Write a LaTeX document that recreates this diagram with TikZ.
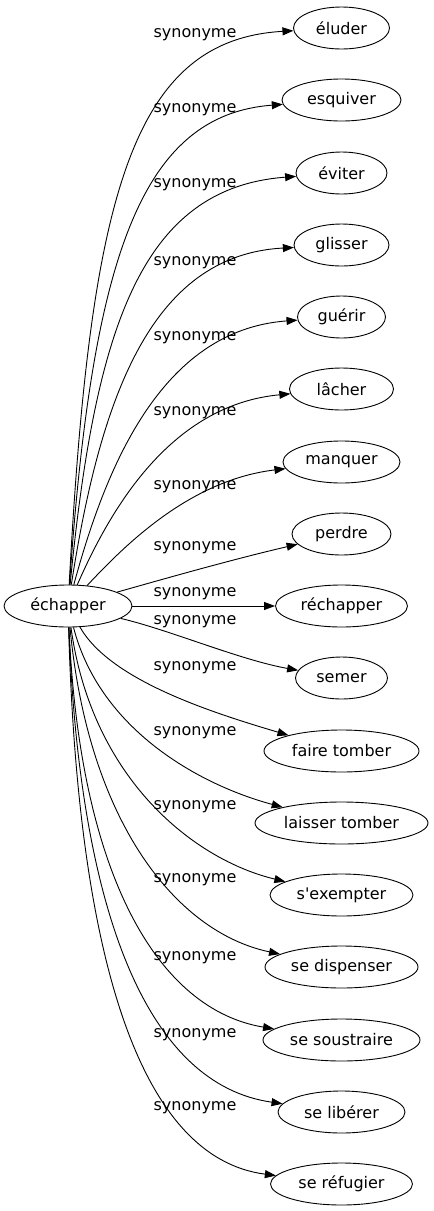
\documentclass[tikz,border=0pt]{standalone}
\usepackage{fontspec}
\setmainfont{DejaVu Sans}[Ligatures=TeXOff]
\usetikzlibrary{arrows.meta, shapes.geometric}

\begin{document}
\begin{tikzpicture}[x=1pt, y=-1pt,
  word/.style={draw, ellipse, line width=0.9pt, minimum height=42pt, inner sep=0pt, font=\fontsize{16}{19}\selectfont},
  syn/.style={-{Triangle[length=11pt, width=8pt]}, line width=0.9pt},
  lbl/.style={font=\fontsize{16}{19}\selectfont}]
  \useasboundingbox (0,0) rectangle (434,1211);

  \node[word, minimum width=128pt] (echapper) at (68,606) {échapper};

  \node[word, minimum width=96pt] (eluder) at (341.5,28) {éluder};
  \node[word, minimum width=119pt] (esquiver) at (341.5,100) {esquiver};
  \node[word, minimum width=91pt] (eviter) at (341.5,173) {éviter};
  \node[word, minimum width=95pt] (glisser) at (341.5,245) {glisser};
  \node[word, minimum width=88pt] (guerir) at (341.5,317) {guérir};
  \node[word, minimum width=104pt] (lacher) at (341.5,389) {lâcher};
  \node[word, minimum width=117pt] (manquer) at (341.5,462) {manquer};
  \node[word, minimum width=99pt] (perdre) at (341.5,534) {perdre};
  \node[word, minimum width=132pt] (rechapper) at (341.5,606) {réchapper};
  \node[word, minimum width=92pt] (semer) at (341.5,678) {semer};
  \node[word, minimum width=155pt] (fairetomber) at (341.5,751) {faire tomber};
  \node[word, minimum width=173pt] (laissertomber) at (341.5,823) {laisser tomber};
  \node[word, minimum width=143pt] (sexempter) at (341.5,895) {s'exempter};
  \node[word, minimum width=153pt] (sedispenser) at (341.5,967) {se dispenser};
  \node[word, minimum width=157pt] (sesoustraire) at (341.5,1040) {se soustraire};
  \node[word, minimum width=127pt] (seliberer) at (341.5,1112) {se libérer};
  \node[word, minimum width=142pt] (serefugier) at (341.5,1184) {se réfugier};

  \draw[syn] (echapper) .. controls (90,200) and (130,40) .. (eluder);
  \draw[syn] (echapper) .. controls (92,260) and (140,115) .. (esquiver);
  \draw[syn] (echapper) .. controls (95,330) and (140,188) .. (eviter);
  \draw[syn] (echapper) .. controls (100,400) and (150,255) .. (glisser);
  \draw[syn] (echapper) .. controls (105,470) and (160,330) .. (guerir);
  \draw[syn] (echapper) .. controls (110,510) and (170,405) .. (lacher);
  \draw[syn] (echapper) .. controls (125,545) and (190,480) .. (manquer);
  \draw[syn] (echapper) .. controls (160,580) and (230,560) .. (perdre);
  \draw[syn] (echapper) -- (rechapper);
  \draw[syn] (echapper) .. controls (170,630) and (240,660) .. (semer);
  \draw[syn] (echapper) .. controls (110,680) and (210,712) .. (fairetomber);
  \draw[syn] (echapper) .. controls (100,730) and (200,785) .. (laissertomber);
  \draw[syn] (echapper) .. controls (92,780) and (195,860) .. (sexempter);
  \draw[syn] (echapper) .. controls (88,820) and (175,932) .. (sedispenser);
  \draw[syn] (echapper) .. controls (80,880) and (160,1010) .. (sesoustraire);
  \draw[syn] (echapper) .. controls (80,920) and (150,1085) .. (seliberer);
  \draw[syn] (echapper) .. controls (78,960) and (140,1158) .. (serefugier);

  % edge labels
  \node[lbl] (l1) at (195,35) {synonyme};
  \node[lbl] (l2) at (195,110) {synonyme};
  \node[lbl] (l3) at (195,185) {synonyme};
  \node[lbl] (l4) at (195,263) {synonyme};
  \node[lbl] (l5) at (195,338) {synonyme};
  \node[lbl] (l6) at (195,413) {synonyme};
  \node[lbl] (l7) at (195,487) {synonyme};
  \node[lbl] (l8) at (195,548) {synonyme};
  \node[lbl] (l9) at (195,594) {synonyme};
  \node[lbl] (l10) at (195,622) {synonyme};
  \node[lbl] (l11) at (195,668) {synonyme};
  \node[lbl] (l12) at (195,733) {synonyme};
  \node[lbl] (l13) at (195,807) {synonyme};
  \node[lbl] (l14) at (195,880) {synonyme};
  \node[lbl] (l15) at (195,958) {synonyme};
  \node[lbl] (l16) at (195,1035) {synonyme};
  \node[lbl] (l17) at (195,1108) {synonyme};
\end{tikzpicture}
\end{document}
